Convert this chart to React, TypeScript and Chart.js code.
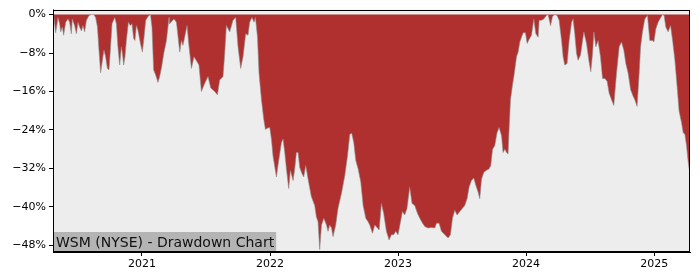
import React, { useEffect, useRef } from "react";
import { Chart, registerables } from "chart.js";

Chart.register(...registerables);

// Time in fractional years
const dates: number[] = [
  2020.305, 2020.31, 2020.326, 2020.344, 2020.357, 2020.365, 2020.378, 2020.388, 2020.404, 2020.422,
  2020.435, 2020.448, 2020.456, 2020.474, 2020.488, 2020.5, 2020.513, 2020.527, 2020.539, 2020.552,
  2020.566, 2020.586, 2020.605, 2020.623, 2020.638, 2020.652, 2020.664, 2020.677, 2020.691, 2020.703,
  2020.716, 2020.73, 2020.742, 2020.753, 2020.766, 2020.787, 2020.8, 2020.812, 2020.826, 2020.839,
  2020.847, 2020.857, 2020.867, 2020.878, 2020.894, 2020.909, 2020.922, 2020.935, 2020.945, 2020.956,
  2020.969, 2020.988, 2021.003, 2021.016, 2021.029, 2021.047, 2021.066, 2021.078, 2021.091, 2021.107,
  2021.125, 2021.138, 2021.154, 2021.17, 2021.191, 2021.211, 2021.216, 2021.25, 2021.269, 2021.295,
  2021.308, 2021.32, 2021.352, 2021.365, 2021.386, 2021.406, 2021.43, 2021.445, 2021.464, 2021.49,
  2021.516, 2021.537, 2021.568, 2021.589, 2021.607, 2021.633, 2021.646, 2021.659, 2021.685, 2021.711,
  2021.732, 2021.75, 2021.771, 2021.789, 2021.81, 2021.828, 2021.841, 2021.859, 2021.875, 2021.886,
  2021.902, 2021.914, 2021.933, 2021.951, 2021.964, 2021.982, 2021.998, 2022.011, 2022.023, 2022.05,
  2022.062, 2022.089, 2022.102, 2022.115, 2022.128, 2022.146, 2022.159, 2022.18, 2022.193, 2022.206,
  2022.219, 2022.232, 2022.25, 2022.263, 2022.279, 2022.297, 2022.323, 2022.349, 2022.362, 2022.375,
  2022.388, 2022.402, 2022.42, 2022.441, 2022.453, 2022.466, 2022.48, 2022.492, 2022.513, 2022.531,
  2022.558, 2022.584, 2022.605, 2022.623, 2022.638, 2022.654, 2022.67, 2022.688, 2022.709, 2022.727,
  2022.748, 2022.766, 2022.779, 2022.8, 2022.818, 2022.839, 2022.852, 2022.87, 2022.888, 2022.909,
  2022.93, 2022.948, 2022.966, 2022.982, 2023.0, 2023.019, 2023.034, 2023.052, 2023.07, 2023.091,
  2023.109, 2023.13, 2023.152, 2023.17, 2023.191, 2023.209, 2023.234, 2023.261, 2023.287, 2023.3,
  2023.32, 2023.339, 2023.365, 2023.391, 2023.409, 2023.425, 2023.443, 2023.461, 2023.482, 2023.503,
  2023.521, 2023.539, 2023.555, 2023.573, 2023.591, 2023.607, 2023.625, 2023.638, 2023.652, 2023.67,
  2023.691, 2023.711, 2023.724, 2023.738, 2023.755, 2023.773, 2023.789, 2023.808, 2023.82, 2023.834,
  2023.847, 2023.859, 2023.867, 2023.878, 2023.894, 2023.906, 2023.925, 2023.938, 2023.951, 2023.964,
  2023.977, 2023.995, 2024.008, 2024.023, 2024.042, 2024.06, 2024.076, 2024.094, 2024.102, 2024.12,
  2024.138, 2024.159, 2024.172, 2024.191, 2024.206, 2024.224, 2024.242, 2024.258, 2024.277, 2024.289,
  2024.302, 2024.32, 2024.336, 2024.355, 2024.367, 2024.38, 2024.394, 2024.406, 2024.425, 2024.441,
  2024.451, 2024.472, 2024.49, 2024.505, 2024.519, 2024.529, 2024.545, 2024.562, 2024.581, 2024.597,
  2024.615, 2024.633, 2024.648, 2024.667, 2024.685, 2024.706, 2024.727, 2024.745, 2024.763, 2024.779,
  2024.797, 2024.816, 2024.836, 2024.849, 2024.867, 2024.883, 2024.894, 2024.909, 2024.927, 2024.948,
  2024.966, 2024.988, 2024.998, 2025.013, 2025.031, 2025.045, 2025.066, 2025.078, 2025.091, 2025.109,
  2025.128, 2025.144, 2025.162, 2025.175, 2025.195, 2025.214, 2025.227, 2025.24, 2025.253, 2025.266,
  2025.275,
];

// Drawdown from running peak, in percent
const drawdown: number[] = [
  0, -0.2, -3.8, -0.6, -1.9, -3.6, -2.6, -4.3, -1.6, -0.9,
  -1.6, -4.0, -0.9, -2.3, -4.0, -1.6, -2.6, -3.4, -2.3, -3.6,
  -1.2, -0.2, 0, 0, -0.6, -2.6, -7.4, -12.1, -9.5, -7.4,
  -8.8, -11.2, -11.5, -7.4, -1.9, -0.6, -1.9, -6.7, -10.5, -6.7,
  -8.1, -10.5, -8.8, -5.4, -1.6, -2.3, -1.9, -5.0, -5.4, -2.3,
  -3.3, -6.0, -7.8, -4.7, -1.2, -0.4, 0, -2.6, -11.5, -12.6,
  -14.1, -12.9, -10.8, -8.1, -5.4, -0.6, -1.9, -0.9, -1.6, -7.8,
  -5.4, -6.4, -2.3, -6.0, -11.2, -8.8, -9.8, -10.5, -16.0, -14.3,
  -12.9, -15.3, -16.0, -16.7, -13.6, -12.9, -8.1, -2.3, -3.6, -1.2,
  -0.6, -6.7, -11.2, -8.8, -4.0, -4.3, -1.6, -0.6, -1.6, -0.6,
  -4.7, -12.2, -17.7, -21.8, -23.9, -23.6, -23.5, -25.9, -29.4, -33.8,
  -31.4, -26.6, -25.9, -28.7, -32.1, -36.2, -32.4, -34.5, -32.1, -28.7,
  -28.7, -31.8, -33.1, -33.8, -31.4, -34.2, -37.9, -39.7, -42.1, -43.1,
  -48.9, -43.8, -42.4, -43.8, -45.1, -43.8, -44.4, -46.2, -43.8, -40.3,
  -37.2, -33.5, -29.4, -24.9, -24.7, -26.6, -30.4, -32.1, -34.9, -39.7,
  -42.4, -43.1, -43.8, -45.5, -43.8, -44.4, -44.8, -39.3, -41.4, -45.1,
  -46.9, -45.8, -45.8, -45.1, -45.8, -43.1, -41.0, -41.7, -40.3, -35.9,
  -39.3, -39.7, -41.4, -42.4, -43.4, -44.1, -44.4, -44.3, -44.4, -43.4,
  -43.4, -45.1, -45.8, -46.5, -45.8, -42.4, -40.7, -41.7, -41.0, -40.3,
  -39.7, -38.3, -35.9, -34.5, -34.0, -35.5, -36.9, -38.3, -34.2, -32.8,
  -32.4, -32.1, -31.4, -28.0, -27.3, -24.6, -23.5, -25.2, -28.7, -28.0,
  -28.7, -29.0, -23.9, -17.7, -14.6, -12.6, -8.8, -7.8, -5.7, -4.7,
  -3.8, -3.8, -6.0, -5.2, -4.3, -0.9, -4.0, -4.7, -1.2, -1.2,
  -0.9, -0.2, 0, -2.3, -0.4, 0, -0.2, -1.2, -5.4, -8.8,
  -10.5, -10.2, -5.4, -1.6, -0.9, -4.0, -8.1, -9.5, -8.4, -5.4,
  -3.6, -6.0, -9.5, -11.9, -8.1, -3.6, -6.7, -5.4, -8.8, -13.3,
  -13.3, -13.9, -16.3, -17.7, -18.9, -12.2, -6.7, -5.7, -7.4, -10.2,
  -12.2, -15.6, -17.0, -17.7, -19.1, -12.2, -6.7, -3.6, -0.9, -0.2,
  -5.4, -5.4, -5.7, -3.0, -1.6, -0.9, 0, -0.2, -2.6, -3.6,
  -2.3, -5.4, -9.5, -13.6, -20.1, -22.5, -24.6, -24.9, -27.3, -30.7,
  -32.4,
];

const yearTicks: number[] = [2021, 2022, 2023, 2024, 2025];
const pctTicks: number[] = [0, -8, -16, -24, -32, -40, -48];
const titleText = "WSM (NYSE) - Drawdown Chart";

const FONT = "'DejaVu Sans', sans-serif";

export default function App() {
  const ref = useRef<HTMLCanvasElement | null>(null);

  useEffect(() => {
    document.body.style.margin = "0";
    const canvas = ref.current;
    if (!canvas) return;

    const framePlugin = {
      id: "frame",
      beforeDatasetsDraw(chart: any) {
        const { ctx, chartArea: a } = chart;
        ctx.save();
        ctx.fillStyle = "#ededed";
        ctx.fillRect(a.left, a.top, a.right - a.left, a.bottom - a.top);
        ctx.restore();
      },
      afterDatasetsDraw(chart: any) {
        const { ctx, chartArea: a } = chart;
        ctx.save();
        // title box
        ctx.font = `14px ${FONT}`;
        const w = ctx.measureText(titleText).width;
        const bh = 20;
        ctx.fillStyle = "#b4b4b4";
        ctx.fillRect(a.left, a.bottom - bh, w + 5, bh);
        ctx.fillStyle = "#111";
        ctx.textBaseline = "alphabetic";
        ctx.fillText(titleText, a.left + 3, a.bottom - 5);
        // spines
        ctx.strokeStyle = "#000";
        ctx.lineWidth = 1;
        ctx.strokeRect(Math.round(a.left) + 0.5, Math.round(a.top) + 0.5,
          Math.round(a.right - a.left) - 1, Math.round(a.bottom - a.top) - 1);
        ctx.restore();
      },
    };

    const chart = new Chart(canvas, {
      type: "line",
      data: {
        datasets: [
          {
            data: dates.map((d, i) => ({ x: d, y: drawdown[i] })),
            borderColor: "rgba(140,140,140,0.75)",
            borderWidth: 0.8,
            backgroundColor: "#b03030",
            fill: "origin",
            pointRadius: 0,
            tension: 0,
          },
        ],
      },
      options: {
        responsive: false,
        animation: false,
        layout: { padding: { top: 7, right: 10, left: 0, bottom: 0 } },
        plugins: { legend: { display: false }, tooltip: { enabled: false } },
        scales: {
          x: {
            type: "linear",
            min: 2020.305,
            max: 2025.28,
            afterBuildTicks: (s: any) => {
              s.ticks = yearTicks.map((v) => ({ value: v }));
            },
            afterFit: (s: any) => {
              s.height = 28;
            },
            ticks: {
              color: "#000",
              font: { family: FONT, size: 11 },
              padding: 2,
              maxRotation: 0,
              callback: (v: any) => String(v),
            },
            grid: { drawOnChartArea: false, drawTicks: true, tickLength: 4, color: "#000" },
            border: { display: true, color: "#000" },
          },
          y: {
            min: -49.4,
            max: 1.03,
            afterBuildTicks: (s: any) => {
              s.ticks = pctTicks.map((v) => ({ value: v }));
            },
            afterFit: (s: any) => {
              s.width = 53;
            },
            ticks: {
              color: "#000",
              font: { family: FONT, size: 11 },
              padding: 3,
              callback: (v: any) => (v < 0 ? "\u2212" + Math.abs(v) : String(v)) + "%",
            },
            grid: { drawOnChartArea: false, drawTicks: true, tickLength: 4, color: "#000" },
            border: { display: true, color: "#000" },
          },
        },
      },
      plugins: [framePlugin],
    } as any);

    return () => chart.destroy();
  }, []);

  return (
    <div style={{ width: 700, height: 280 }}>
      <canvas ref={ref} width={700} height={280} />
    </div>
  );
}
